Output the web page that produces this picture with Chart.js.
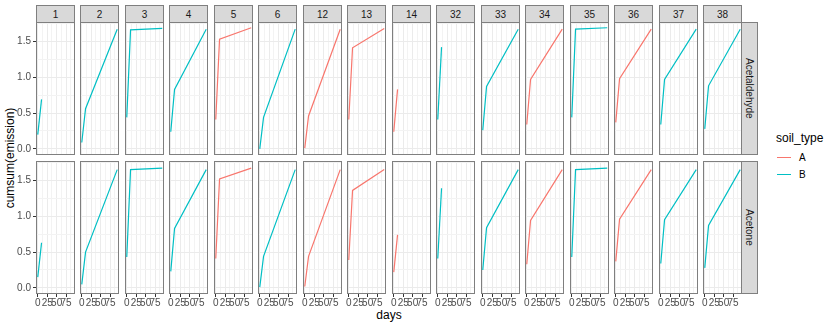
<!DOCTYPE html>
<html lang="en">

<head>
  <meta charset="UTF-8" />
  <title>cumsum(emission) by days</title>
  <style>
    * {
      box-sizing: border-box;
      margin: 0;
      padding: 0;
    }

    html,
    body {
      width: 830px;
      height: 326px;
      background: #fff;
      font-family: "Liberation Sans", Arial, sans-serif;
      overflow: hidden;
    }

    #plot {
      position: relative;
      width: 830px;
      height: 326px;
    }

    .cell {
      position: absolute;
    }

    .strip {
      position: absolute;
      background: #d9d9d9;
      border: 1px solid #7f7f7f;
      color: #1a1a1a;
      font-size: 10px;
      display: flex;
      align-items: center;
      justify-content: center;
    }

    .strip.right {
      writing-mode: vertical-rl;
    }

    .title {
      position: absolute;
      font-size: 12px;
      color: #000;
      white-space: nowrap;
    }

    #ytitle {
      left: 10px;
      top: 158px;
      transform: translate(-50%, -50%) rotate(-90deg);
    }

    #xtitle {
      left: 389px;
      top: 308px;
      transform: translateX(-50%);
    }

    #legend {
      position: absolute;
      left: 776px;
      top: 131px;
      font-size: 12px;
    }

    .key {
      display: flex;
      align-items: center;
      height: 17px;
      font-size: 10px;
      color: #000;
    }

    .key span {
      display: inline-block;
      width: 14px;
      height: 1px;
      margin: 0 8px 0 1px;
    }
  </style>
  <script src="https://cdn.jsdelivr.net/npm/chart.js@4/dist/chart.umd.min.js"></script>
</head>

<body>
  <div id="plot">
    <div class="title" id="ytitle">cumsum(emission)</div>
    <div class="title" id="xtitle">days</div>
    <div id="legend">
      <div style="height:18px">soil_type</div>
    </div>
  </div>

  <script>
    // facet columns (plot id) and rows (compound)
    const plots = ['1', '2', '3', '4', '5', '6', '12', '13', '14', '32', '33', '34', '35', '36', '37', '38'];
    const compounds = ['Acetaldehyde', 'Acetone'];
    const soilTypes = ['A', 'B'];
    const soilColors = ['#F8766D', '#00BFC4'];
    const plotSoil = ['B', 'B', 'B', 'B', 'A', 'B', 'A', 'A', 'A', 'B', 'B', 'A', 'B', 'A', 'B', 'B'];

    // sampling days
    const days = [0, 10, 94];

    // cumsum(emission) per plot, one array per compound
    const acetaldehyde = [
      [0.20, 0.69], [0.09, 0.56, 1.67], [0.44, 1.66, 1.68], [0.24, 0.83, 1.67],
      [0.41, 1.53, 1.69], [0.00, 0.44, 1.67], [0.01, 0.46, 1.67], [0.41, 1.41, 1.68],
      [0.24, 0.83], [0.41, 1.42], [0.26, 0.87, 1.67], [0.34, 0.97, 1.67],
      [0.44, 1.67, 1.69], [0.37, 0.98, 1.67], [0.34, 0.97, 1.67], [0.28, 0.88, 1.67]
    ];
    const acetone = [
      [0.15, 0.63], [0.05, 0.50, 1.65], [0.43, 1.65, 1.67], [0.23, 0.83, 1.65],
      [0.41, 1.52, 1.67], [0.01, 0.44, 1.65], [0.02, 0.44, 1.65], [0.39, 1.36, 1.65],
      [0.22, 0.74], [0.41, 1.39], [0.25, 0.84, 1.65], [0.33, 0.94, 1.65],
      [0.43, 1.65, 1.67], [0.37, 0.96, 1.65], [0.34, 0.95, 1.65], [0.28, 0.87, 1.65]
    ];
    const series = [acetaldehyde, acetone];

    // axis ticks
    const xTicks = [0, 25, 50, 75];
    const xMinor = [12.5, 37.5, 62.5, 87.5];
    const xTickLabels = ['0', '25', '50', '75'];
    const yTicks = [0, 0.5, 1, 1.5];
    const yMinor = [0.25, 0.75, 1.25, 1.75];
    const yTickLabels = ['0.0', '0.5', '1.0', '1.5'];

    // panel layout
    const X0 = 36, PITCH = 44.47, PW = 39, PH = 133;
    const ROW_TOP = [22, 161];
    const YAXIS_W = 36, XAXIS_H = 20, PAD = 8;

    const plotEl = document.getElementById('plot');

    const panelBorder = {
      id: 'panelBorder',
      afterDraw(chart) {
        const a = chart.chartArea, c = chart.ctx;
        c.save();
        c.strokeStyle = '#7f7f7f';
        c.lineWidth = 1;
        c.strokeRect(a.left + 0.5, a.top + 0.5, a.right - a.left - 1, a.bottom - a.top - 1);
        c.restore();
      }
    };

    const isMajor = (list, v) => list.some(t => Math.abs(t - v) < 1e-6);

    function makePanel(r, c) {
      const left = Math.round(X0 + c * PITCH);
      const top = ROW_TOP[r];
      const extraL = c === 0 ? YAXIS_W : PAD;
      const extraB = r === 1 ? XAXIS_H : PAD;

      const box = document.createElement('div');
      box.className = 'cell';
      box.style.left = (left - extraL) + 'px';
      box.style.top = (top - PAD) + 'px';
      box.style.width = (PW + extraL + PAD) + 'px';
      box.style.height = (PH + PAD + extraB) + 'px';
      const cv = document.createElement('canvas');
      box.appendChild(cv);
      plotEl.appendChild(box);

      const vals = series[r][c];
      const color = soilColors[soilTypes.indexOf(plotSoil[c])];

      new Chart(cv.getContext('2d'), {
        type: 'line',
        data: {
          datasets: [{
            data: vals.map((v, i) => ({ x: days[i], y: v })),
            borderColor: color,
            borderWidth: 1.2,
            pointRadius: 0,
            tension: 0
          }]
        },
        options: {
          animation: false,
          responsive: true,
          maintainAspectRatio: false,
          events: [],
          layout: { padding: { left: c === 0 ? 0 : PAD, right: PAD, top: PAD, bottom: r === 1 ? 0 : PAD } },
          plugins: { legend: { display: false }, tooltip: { enabled: false } },
          scales: {
            x: {
              type: 'linear',
              min: -4.7,
              max: 98.7,
              afterBuildTicks: s => { s.ticks = [...xTicks, ...xMinor].sort((a, b) => a - b).map(v => ({ value: v })); },
              afterFit: s => { s.height = r === 1 ? XAXIS_H : 0; },
              border: { display: false },
              grid: {
                color: ctx => isMajor(xTicks, ctx.tick.value) ? '#ebebeb' : '#f3f3f3',
                lineWidth: 1,
                drawTicks: r === 1,
                tickLength: 3,
                tickColor: ctx => isMajor(xTicks, ctx.tick.value) ? '#333333' : 'rgba(0,0,0,0)'
              },
              ticks: {
                display: r === 1,
                autoSkip: false,
                maxRotation: 0,
                minRotation: 0,
                padding: 0,
                color: '#4d4d4d',
                font: { family: '"Liberation Sans", Arial, sans-serif', size: 10 },
                callback: v => { const i = xTicks.indexOf(v); return i >= 0 ? xTickLabels[i] : ''; }
              }
            },
            y: {
              type: 'linear',
              min: -0.085,
              max: 1.77,
              afterBuildTicks: s => { s.ticks = [...yTicks, ...yMinor].sort((a, b) => a - b).map(v => ({ value: v })); },
              afterFit: s => { s.width = c === 0 ? YAXIS_W : 0; },
              border: { display: false },
              grid: {
                color: ctx => isMajor(yTicks, ctx.tick.value) ? '#ebebeb' : '#f3f3f3',
                lineWidth: 1,
                drawTicks: c === 0,
                tickLength: 3,
                tickColor: ctx => isMajor(yTicks, ctx.tick.value) ? '#333333' : 'rgba(0,0,0,0)'
              },
              ticks: {
                display: c === 0,
                autoSkip: false,
                padding: 2,
                color: '#4d4d4d',
                font: { family: '"Liberation Sans", Arial, sans-serif', size: 10 },
                callback: v => { const i = yTicks.findIndex(t => Math.abs(t - v) < 1e-6); return i >= 0 ? yTickLabels[i] : ''; }
              }
            }
          }
        },
        plugins: [panelBorder]
      });
    }

    // top strips
    plots.forEach((p, c) => {
      const s = document.createElement('div');
      s.className = 'strip';
      s.style.left = Math.round(X0 + c * PITCH) + 'px';
      s.style.top = '5px';
      s.style.width = PW + 'px';
      s.style.height = '18px';
      s.textContent = p;
      plotEl.appendChild(s);
    });

    // right strips
    compounds.forEach((name, r) => {
      const s = document.createElement('div');
      s.className = 'strip right';
      s.style.left = (Math.round(X0 + 15 * PITCH) + PW - 1) + 'px';
      s.style.top = ROW_TOP[r] + 'px';
      s.style.width = '17px';
      s.style.height = PH + 'px';
      s.textContent = name;
      plotEl.appendChild(s);
    });

    for (let r = 0; r < compounds.length; r++) {
      for (let c = 0; c < plots.length; c++) makePanel(r, c);
    }

    // legend
    const legend = document.getElementById('legend');
    soilTypes.forEach((t, i) => {
      const k = document.createElement('div');
      k.className = 'key';
      const sw = document.createElement('span');
      sw.style.background = soilColors[i];
      k.appendChild(sw);
      k.appendChild(document.createTextNode(t));
      legend.appendChild(k);
    });
  </script>
</body>

</html>
